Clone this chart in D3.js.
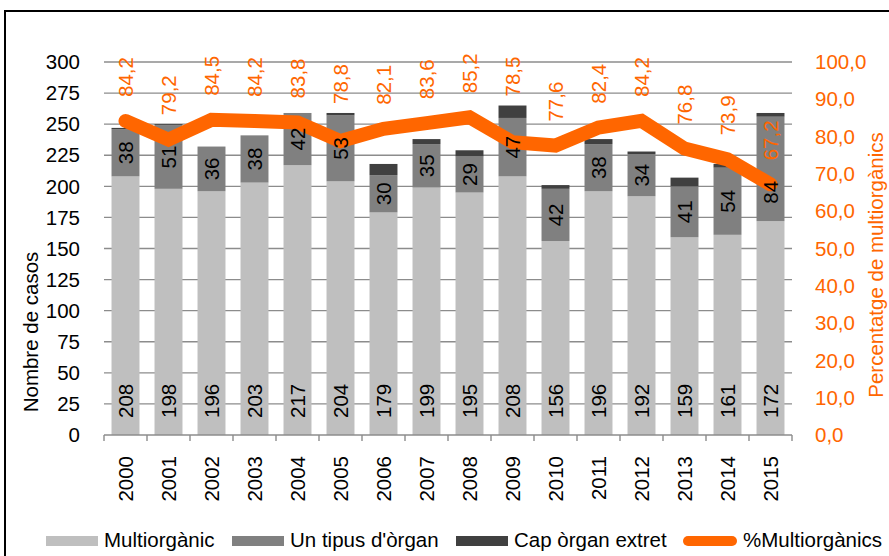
<!DOCTYPE html>
<html>
<head>
<meta charset="utf-8">
<script src="https://cdn.jsdelivr.net/npm/d3@7"></script>
<style>
  body { margin: 0; background: #fff; }
  text { font-family: "Liberation Sans", Arial, sans-serif; }
</style>
</head>
<body>
<div id="chart"></div>
<script>
var years = ['2000','2001','2002','2003','2004','2005','2006','2007','2008','2009','2010','2011','2012','2013','2014','2015'];
var multi = [208,198,196,203,217,204,179,199,195,208,156,196,192,159,161,172];
var unTipus = [38,51,36,38,42,53,30,35,29,47,42,38,34,41,54,84];
var capOrgan = [1,1,0,0,0,2,9,4,5,10,3,4,2,7,3,3];
var pctMulti = [84.2,79.2,84.5,84.2,83.8,78.8,82.1,83.6,85.2,78.5,77.6,82.4,84.2,76.8,73.9,67.2];
var leftTicks = [0,25,50,75,100,125,150,175,200,225,250,275,300];
var rightTicks = [0,10,20,30,40,50,60,70,80,90,100];

var seriesNames = ['Multiorgànic', "Un tipus d'òrgan", 'Cap òrgan extret'];
var seriesColors = ['#bfbfbf', '#808080', '#404040'];
var orange = '#ff6600';

var w = 889, h = 556;
var plotLeft = 104, plotRight = 792, plotTop = 62, plotBottom = 435;
var fs = 20.5;

var svg = d3.select('#chart').append('svg')
  .attr('width', w)
  .attr('height', h);

svg.append('rect')
  .attr('x', 5).attr('y', 11)
  .attr('width', w).attr('height', h)
  .attr('fill', 'none')
  .attr('stroke', '#000')
  .attr('stroke-width', 2);

var x = d3.scaleBand()
  .domain(years)
  .range([plotLeft, plotRight])
  .paddingInner(0.35)
  .paddingOuter(0.175);

var y = d3.scaleLinear().domain([0, 300]).range([plotBottom, plotTop]);
var y2 = d3.scaleLinear().domain([0, 100]).range([plotBottom, plotTop]);

// gridlines
svg.append('g').selectAll('line')
  .data(leftTicks.slice(1))
  .enter().append('line')
  .attr('x1', plotLeft).attr('x2', plotRight)
  .attr('y1', function(d) { return y(d); })
  .attr('y2', function(d) { return y(d); })
  .attr('stroke', '#8c8c8c')
  .attr('stroke-width', 1.4);

// stacked bars
var rows = years.map(function(yr, i) {
  return { year: yr, multi: multi[i], un: unTipus[i], cap: capOrgan[i] };
});
var stack = d3.stack().keys(['multi', 'un', 'cap'])(rows);

var layers = svg.append('g').selectAll('g')
  .data(stack)
  .enter().append('g')
  .attr('fill', function(d, i) { return seriesColors[i]; });

layers.selectAll('rect')
  .data(function(d) { return d; })
  .enter().append('rect')
  .attr('x', function(d) { return x(d.data.year); })
  .attr('width', x.bandwidth())
  .attr('y', function(d) { return y(d[1]); })
  .attr('height', function(d) { return y(d[0]) - y(d[1]); });

// x axis line + ticks
svg.append('line')
  .attr('x1', plotLeft).attr('x2', plotRight)
  .attr('y1', plotBottom).attr('y2', plotBottom)
  .attr('stroke', '#8c8c8c').attr('stroke-width', 1.4);

svg.append('g').selectAll('line')
  .data(d3.range(years.length + 1))
  .enter().append('line')
  .attr('x1', function(i) { return plotLeft + i * x.step(); })
  .attr('x2', function(i) { return plotLeft + i * x.step(); })
  .attr('y1', plotBottom).attr('y2', plotBottom + 6)
  .attr('stroke', '#8c8c8c').attr('stroke-width', 1.4);

// year labels
svg.append('g').selectAll('text')
  .data(years)
  .enter().append('text')
  .attr('transform', function(d) {
    return 'translate(' + (x(d) + x.bandwidth() / 2) + ',' + 456 + ') rotate(-90)';
  })
  .attr('dy', '0.35em')
  .attr('text-anchor', 'end')
  .attr('font-size', fs)
  .text(function(d) { return d; });

// left axis labels
svg.append('g').selectAll('text')
  .data(leftTicks)
  .enter().append('text')
  .attr('x', 80)
  .attr('y', function(d) { return y(d); })
  .attr('dy', '0.35em')
  .attr('text-anchor', 'end')
  .attr('font-size', fs)
  .text(function(d) { return d; });

// right axis labels
var fmt = function(d) { return d3.format('.1f')(d).replace('.', ','); };
svg.append('g').selectAll('text')
  .data(rightTicks)
  .enter().append('text')
  .attr('x', 815)
  .attr('y', function(d) { return y2(d); })
  .attr('dy', '0.35em')
  .attr('font-size', fs)
  .attr('fill', orange)
  .text(fmt);

// axis titles
svg.append('text')
  .attr('transform', 'translate(31,332) rotate(-90)')
  .attr('dy', '0.35em')
  .attr('text-anchor', 'middle')
  .attr('font-size', fs)
  .text('Nombre de casos');

svg.append('text')
  .attr('transform', 'translate(876,265) rotate(-90)')
  .attr('dy', '0.35em')
  .attr('text-anchor', 'middle')
  .attr('font-size', fs)
  .attr('fill', orange)
  .text('Percentatge de multiorgànics');

// percentage points and where their labels start (kept clear of the bar top)
var pts = years.map(function(yr, i) { return [x(yr) + x.bandwidth() / 2, y2(pctMulti[i])]; });
var barTop = rows.map(function(r) { return y(r.multi + r.un + r.cap); });
var pctStart = pts.map(function(p, i) {
  var s = p[1] - 24;
  if (barTop[i] > p[1] - 54) s = Math.min(s, barTop[i] - 9);
  return s;
});

// percentage line
svg.append('path')
  .attr('d', d3.line()(pts))
  .attr('fill', 'none')
  .attr('stroke', orange)
  .attr('stroke-width', 14)
  .attr('stroke-linejoin', 'miter')
  .attr('stroke-linecap', 'round');

// bar value labels (on top of the line)
var cx = function(d) { return x(d.data.year) + x.bandwidth() / 2; };

svg.append('g').selectAll('text')
  .data(stack[0])
  .enter().append('text')
  .attr('transform', function(d) { return 'translate(' + cx(d) + ',' + (y(0) - 17) + ') rotate(-90)'; })
  .attr('dy', '0.35em')
  .attr('font-size', fs)
  .text(function(d) { return d.data.multi; });

svg.append('g').selectAll('text')
  .data(stack[1])
  .enter().append('text')
  .attr('transform', function(d, i) {
    var c = (y(d[0]) + y(d[1])) / 2;
    if (c - 12 < pctStart[i] + 4) c = pctStart[i] + 32;
    return 'translate(' + cx(d) + ',' + c + ') rotate(-90)';
  })
  .attr('dy', '0.35em')
  .attr('text-anchor', 'middle')
  .attr('font-size', fs)
  .text(function(d) { return d.data.un; });

svg.append('g').selectAll('text')
  .data(pts)
  .enter().append('text')
  .attr('transform', function(p, i) { return 'translate(' + p[0] + ',' + pctStart[i] + ') rotate(-90)'; })
  .attr('dy', '0.35em')
  .attr('font-size', fs)
  .attr('fill', orange)
  .text(function(p, i) { return fmt(pctMulti[i]); });

// legend
var legendX = [46, 232, 456];
var lg = svg.append('g');
seriesNames.forEach(function(name, i) {
  lg.append('rect')
    .attr('x', legendX[i]).attr('y', 536)
    .attr('width', 52).attr('height', 10)
    .attr('fill', seriesColors[i]);
  lg.append('text')
    .attr('x', legendX[i] + 58).attr('y', 547)
    .attr('font-size', fs)
    .text(name);
});
lg.append('line')
  .attr('x1', 688).attr('x2', 732)
  .attr('y1', 541).attr('y2', 541)
  .attr('stroke', orange)
  .attr('stroke-width', 10)
  .attr('stroke-linecap', 'round');
lg.append('text')
  .attr('x', 743).attr('y', 547)
  .attr('font-size', fs)
  .text('%Multiorgànics');
</script>
</body>
</html>
